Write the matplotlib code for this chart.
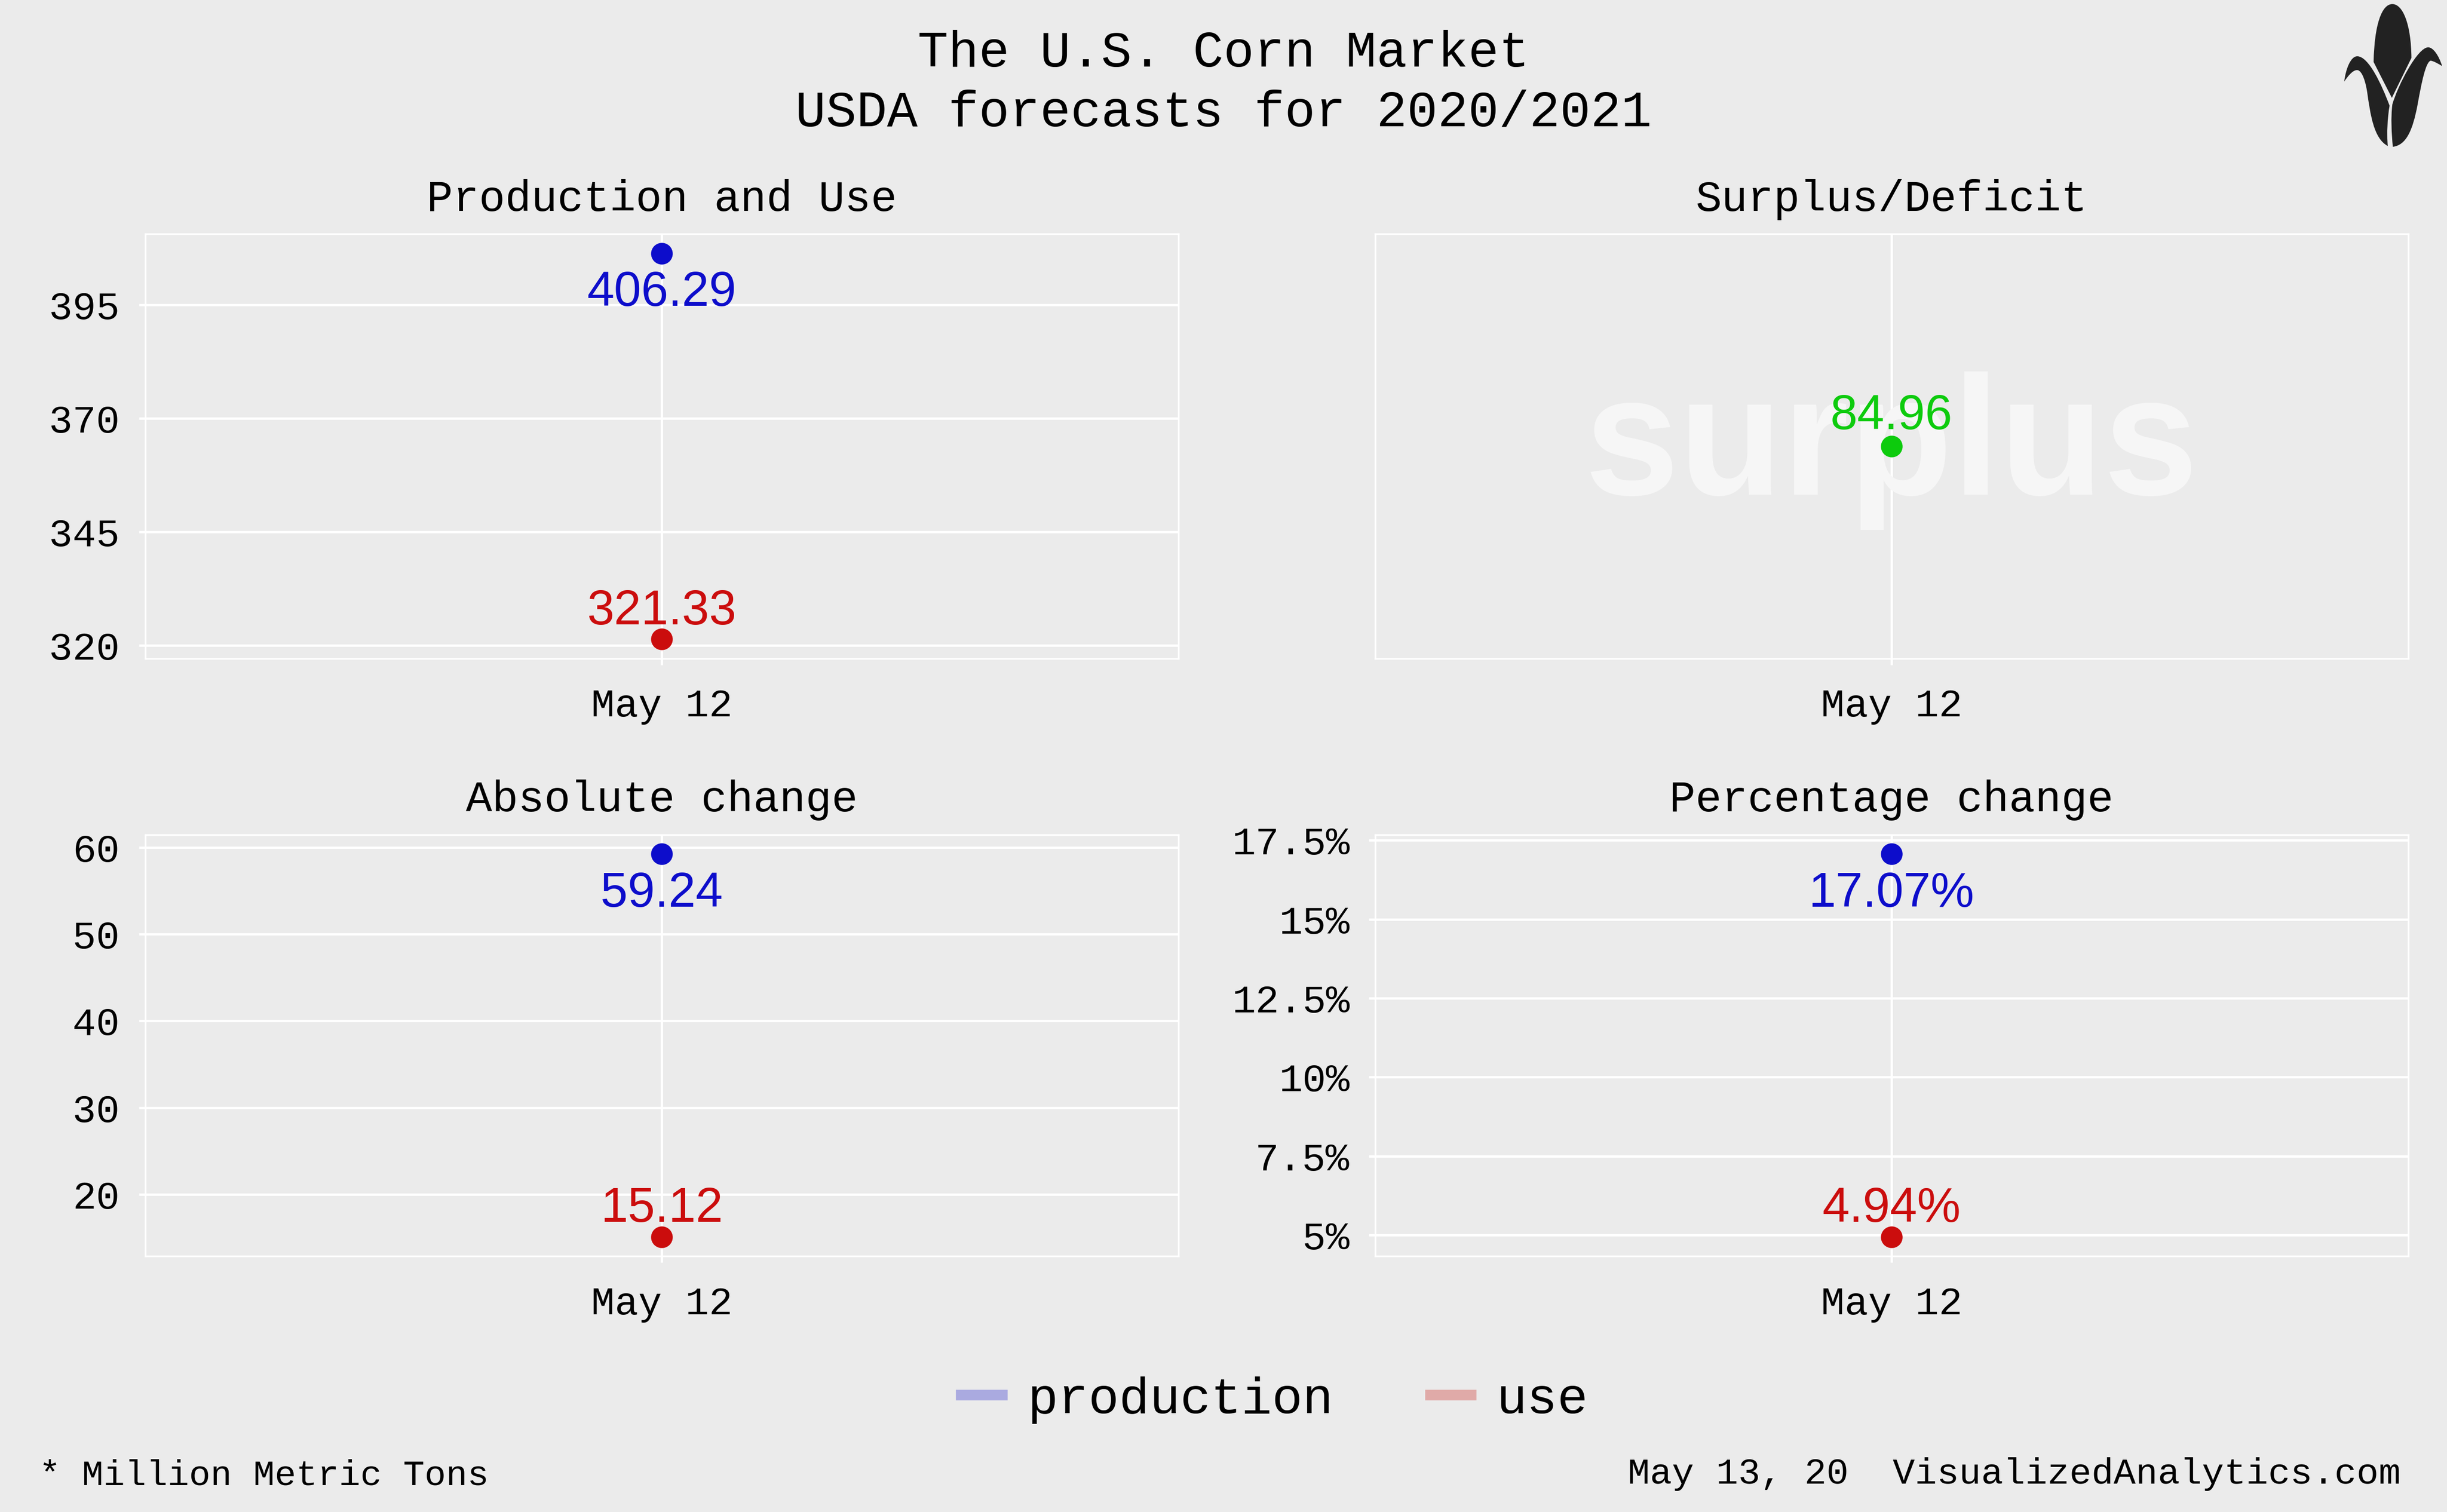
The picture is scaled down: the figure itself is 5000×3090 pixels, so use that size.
import matplotlib.pyplot as plt
import numpy as np
from matplotlib.lines import Line2D
from matplotlib.path import Path
from matplotlib.patches import PathPatch
from matplotlib.ticker import FuncFormatter

# data, USDA May 12 report
dates = ['May 12']
production = [406.29]
use = [321.33]
surplus = [84.96]
abs_prod = [59.24]
abs_use = [15.12]
pct_prod = [17.07]
pct_use = [4.94]

prod_ticks = [320, 345, 370, 395]
abs_ticks = [20, 30, 40, 50, 60]
pct_ticks = [5, 7.5, 10, 12.5, 15, 17.5]

BG = '#EBEBEB'
BLUE = '#0D0DCB'
RED = '#CB0D0D'
GREEN = '#0DCB0D'
MONO = 'Liberation Mono'
SANS = 'Liberation Sans'

plt.rcParams['font.family'] = MONO

fig = plt.figure(figsize=(16, 9.888), dpi=312.5, facecolor=BG)


def style(ax, yticks=None):
    ax.set_facecolor(BG)
    for s in ax.spines.values():
        s.set_color('white')
        s.set_linewidth(0.8)
    ax.set_xlim(-0.6, 0.6)
    ax.set_xticks([0])
    ax.set_xticklabels(dates)
    ax.tick_params(axis='both', colors='white', length=3, width=1.1,
                   labelcolor='black', labelsize=18.5)
    ax.tick_params(axis='x', pad=11)
    ax.tick_params(axis='y', pad=9)
    ax.grid(True, color='white', lw=1.1)
    ax.set_axisbelow(True)
    if yticks is None:
        ax.set_yticks([])
    else:
        ax.set_yticks(yticks)


def expand(lo, hi):
    pad = 0.05 * (hi - lo)
    return lo - pad, hi + pad


def pair(ax, top, bottom, fmt):
    ax.plot([0], top, 'o', color=BLUE, ms=9.2, zorder=3)
    ax.plot([0], bottom, 'o', color=RED, ms=9.2, zorder=3)
    for v in top:
        ax.annotate(fmt(v), (0, v), xytext=(0, -8), textcoords='offset points',
                    ha='center', va='top', color=BLUE, fontsize=23, family=SANS)
    for v in bottom:
        ax.annotate(fmt(v), (0, v), xytext=(0, 7), textcoords='offset points',
                    ha='center', va='baseline', color=RED, fontsize=23, family=SANS)
    ax.set_ylim(*expand(min(bottom), max(top)))


# production and use
ax1 = fig.add_axes([0.0593, 0.5645, 0.4222, 0.2807])
style(ax1, prod_ticks)
pair(ax1, production, use, lambda v: f'{v:.2f}')
ax1.set_title('Production and Use', fontsize=20.5, pad=11)

# surplus / deficit
ax2 = fig.add_axes([0.5619, 0.5645, 0.4222, 0.2807])
style(ax2)
ax2.text(0.5, 0.49, 'surplus', transform=ax2.transAxes, ha='center', va='center',
         fontsize=80, family=SANS, weight='bold', color='#F6F6F6', zorder=1)
ax2.plot([0], surplus, 'o', color=GREEN, ms=9.2, zorder=3)
for v in surplus:
    ax2.annotate(f'{v:.2f}', (0, v), xytext=(0, 8), textcoords='offset points',
                 ha='center', va='baseline', color=GREEN, fontsize=23, family=SANS)
ax2.set_ylim(surplus[0] - 10, surplus[0] + 10)
ax2.set_title('Surplus/Deficit', fontsize=20.5, pad=11)

# absolute change
ax3 = fig.add_axes([0.0593, 0.1693, 0.4222, 0.2786])
style(ax3, abs_ticks)
pair(ax3, abs_prod, abs_use, lambda v: f'{v:.2f}')
ax3.set_title('Absolute change', fontsize=20.5, pad=11)

# percentage change
ax4 = fig.add_axes([0.5619, 0.1693, 0.4222, 0.2786])
style(ax4, pct_ticks)
pair(ax4, pct_prod, pct_use, lambda v: f'{v:.2f}%')
ax4.yaxis.set_major_formatter(FuncFormatter(lambda v, p: f'{v:g}%'))
ax4.set_title('Percentage change', fontsize=20.5, pad=11)

fig.text(0.5, 0.945, 'The U.S. Corn Market\nUSDA forecasts for 2020/2021',
         ha='center', va='center', fontsize=24, linespacing=1.33)

handles = [Line2D([], [], color='#AAAAE0', lw=5),
           Line2D([], [], color='#E0AAA8', lw=5)]
fig.legend(handles, ['production', 'use'], loc='center', bbox_to_anchor=(0.521, 0.074),
           ncol=2, frameon=False, fontsize=24, handlelength=0.8,
           handletextpad=0.5, columnspacing=1.9)

fig.text(0.016, 0.024, '* Million Metric Tons', ha='left', va='center', fontsize=16.8)
fig.text(0.981, 0.025, 'May 13, 20  VisualizedAnalytics.com', ha='right', va='center',
         fontsize=17.3)

# corn logo
lax = fig.add_axes([4700 / 5000, 1 - 320 / 3090, 300 / 5000, 320 / 3090])
lax.set_xlim(0, 900)
lax.set_ylim(960, 0)
lax.axis('off')
C = Path.CURVE4
cob = Path([(450, 380), (455, 150), (500, 25), (565, 25), (630, 25), (680, 150),
            (682, 355), (562, 600), (450, 380)],
           [Path.MOVETO, C, C, C, C, C, C, Path.LINETO, Path.CLOSEPOLY])
left = Path([(270, 500), (280, 420), (310, 345), (350, 345), (420, 345), (500, 520),
             (548, 648), (535, 720), (530, 820), (537, 895), (450, 850), (430, 700),
             (410, 560), (395, 470), (370, 425), (345, 430), (320, 432), (290, 470),
             (270, 500), (270, 500)],
            [Path.MOVETO] + [C] * 18 + [Path.CLOSEPOLY])
right = Path([(870, 405), (850, 340), (815, 290), (785, 290), (720, 290), (600, 520),
              (565, 640), (555, 720), (560, 820), (568, 900), (650, 890), (690, 800),
              (720, 640), (745, 500), (770, 380), (800, 372), (820, 375), (845, 390),
              (870, 405), (870, 405)],
             [Path.MOVETO] + [C] * 18 + [Path.CLOSEPOLY])
for p in (cob, left, right):
    lax.add_patch(PathPatch(p, facecolor='#222222', edgecolor='none'))

fig.savefig('out.png', dpi=312.5, facecolor=BG)
